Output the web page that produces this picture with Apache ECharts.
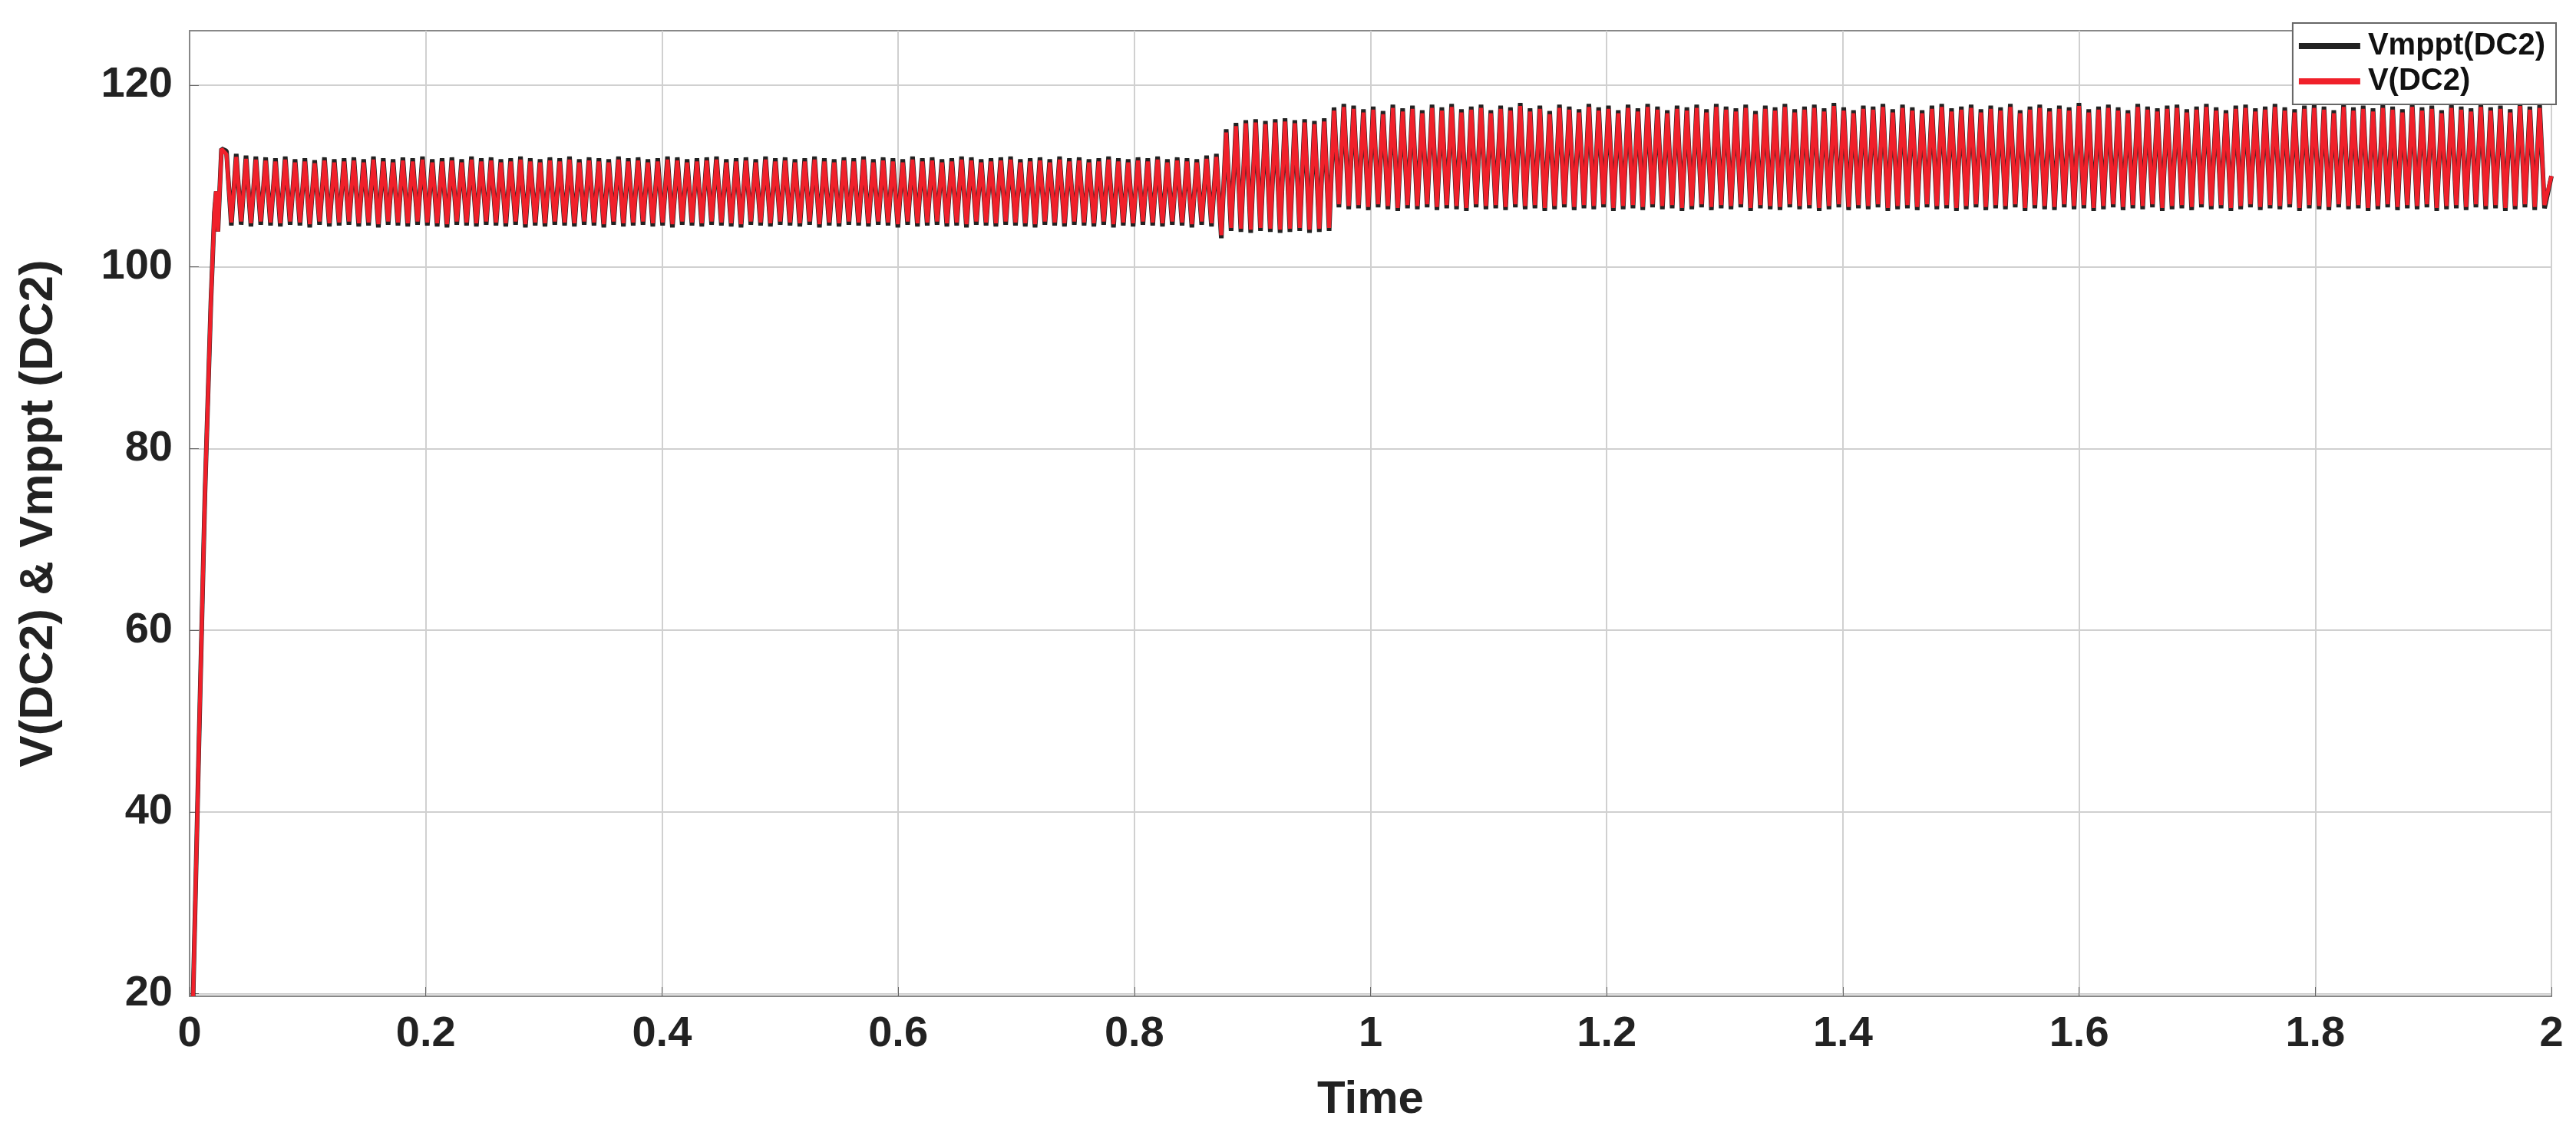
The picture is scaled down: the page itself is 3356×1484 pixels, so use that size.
<!DOCTYPE html>
<html><head><meta charset="utf-8">
<script src="https://cdn.jsdelivr.net/npm/echarts@6/dist/echarts.min.js"></script>
<style>html,body{margin:0;padding:0;background:#fff}#c{width:3356px;height:1484px}</style>
</head><body><div id="c"></div>
<script>
// start-up transient (time, value)
const startT = [0.003, 0.008, 0.013, 0.018, 0.021, 0.0225, 0.024, 0.0255, 0.027];
const startV = [19.7, 48, 75, 96, 106, 108.3, 103.9, 108.5, 113.0];
// oscillation period (s) between successive peaks
const period = 0.0083;
const t0 = 0.0312;
// segment 1: 0.03 - 0.875 s
const peaks1 = [112.4,112.1,111.9,111.8,111.7,111.6,111.8,111.5,111.6,111.4,111.7,111.5,111.6,111.7,111.5,111.8,111.6,111.5,111.7,111.6,111.8,111.5,111.6,111.7,111.5,111.8,111.6,111.7,111.5,111.6,111.8,111.6,111.5,111.7,111.6,111.8,111.5,111.7,111.6,111.5,111.8,111.6,111.7,111.5,111.6,111.8,111.7,111.5,111.6,111.7,111.8,111.5,111.6,111.7,111.5,111.8,111.6,111.7,111.5,111.6,111.8,111.6,111.5,111.7,111.6,111.8,111.5,111.7,111.6,111.5,111.8,111.6,111.7,111.5,111.6,111.8,111.7,111.5,111.6,111.7,111.8,111.5,111.6,111.7,111.5,111.8,111.6,111.7,111.5,111.6,111.8,111.6,111.5,111.7,111.6,111.8,111.5,111.7,111.6,111.5,111.9,112.1];
const troughs1 = [104.9,105.0,104.8,105.0,104.9,104.8,105.0,104.9,104.7,105.0,104.8,104.9,105.0,104.8,104.9,104.7,105.0,104.9,104.8,105.0,104.9,104.8,104.7,105.0,104.9,104.8,105.0,104.9,104.8,105.0,104.7,104.9,104.8,105.0,104.9,104.8,105.0,104.9,104.7,105.0,104.8,104.9,105.0,104.8,104.9,104.7,105.0,104.9,104.8,105.0,104.9,104.8,104.7,105.0,104.9,104.8,105.0,104.9,104.8,105.0,104.7,104.9,104.8,105.0,104.9,104.8,105.0,104.9,104.7,105.0,104.8,104.9,105.0,104.8,104.9,104.7,105.0,104.9,104.8,105.0,104.9,104.8,104.7,105.0,104.9,104.8,105.0,104.9,104.8,105.0,104.7,104.9,104.8,105.0,104.9,104.8,105.0,104.9,104.7,105.0,104.8,103.5];
// segment 2: 0.875 - 0.965 s
const peaks2 = [114.8,115.5,115.8,115.9,115.7,115.9,116.0,115.8,115.9,115.7,116.0];
const troughs2 = [104.3,104.2,104.1,104.3,104.2,104.1,104.2,104.3,104.1,104.2,104.3];
// segment 3: 0.965 - 2.0 s
const peaks3 = [117.2,117.6,117.4,117.0,117.3,116.8,117.5,117.1,117.4,116.9,117.5,117.2,117.6,117.0,117.3,117.5,116.9,117.4,117.2,117.7,117.1,117.4,116.8,117.5,117.3,117.0,117.6,117.2,117.4,116.9,117.5,117.1,117.6,117.3,116.9,117.4,117.2,117.5,117.0,117.6,117.3,117.1,117.5,116.8,117.4,117.2,117.6,117.0,117.3,117.5,117.1,117.7,117.2,116.9,117.4,117.3,117.6,117.0,117.5,117.2,116.9,117.4,117.6,117.1,117.3,117.5,117.0,117.4,117.2,117.6,116.9,117.3,117.5,117.1,117.4,117.2,117.7,117.0,117.3,117.5,117.2,116.9,117.6,117.3,117.1,117.4,117.5,117.0,117.3,117.6,117.2,116.9,117.4,117.5,117.1,117.3,117.6,117.2,117.0,117.4,117.5,117.3,116.9,117.6,117.2,117.4,117.1,117.5,117.3,117.0,117.6,117.2,117.4,116.9,117.5,117.3,117.1,117.6,117.2,117.4,117.0,117.7,117.3,117.5];
const troughs3 = [106.9,106.7,106.8,106.6,106.9,106.7,106.5,106.8,106.7,106.9,106.6,106.8,106.7,106.5,106.9,106.7,106.8,106.6,106.9,106.7,106.8,106.5,106.7,106.9,106.6,106.8,106.7,106.9,106.5,106.7,106.8,106.6,106.9,106.7,106.8,106.5,106.7,106.9,106.6,106.8,106.7,106.9,106.5,106.8,106.7,106.6,106.9,106.7,106.8,106.5,106.7,106.9,106.6,106.8,106.7,106.9,106.5,106.7,106.8,106.6,106.9,106.7,106.8,106.5,106.7,106.9,106.6,106.8,106.7,106.9,106.5,106.8,106.7,106.6,106.9,106.7,106.8,106.5,106.7,106.9,106.6,106.8,106.7,106.9,106.5,106.7,106.8,106.6,106.9,106.7,106.8,106.5,106.7,106.9,106.6,106.8,106.7,106.9,106.5,106.8,106.7,106.6,106.9,106.7,106.8,106.5,106.7,106.9,106.6,106.8,106.7,106.9,106.5,106.7,106.8,106.6,106.9,106.7,106.8,106.5,106.7,106.9,106.6,106.8,106.7];
// small overshoot of the MPPT reference beyond V(DC2) at the extremes
const mpptOvershoot = 0.35;
const xTicks = [0, 0.2, 0.4, 0.6, 0.8, 1, 1.2, 1.4, 1.6, 1.8, 2];

const peaks = peaks1.concat(peaks2, peaks3);
const troughs = troughs1.concat(troughs2, troughs3);
function build(ov){
  const d = startT.map((t,i)=>[t,startV[i]]);
  for(let k=0;k<peaks.length;k++){
    const tp = t0 + k*period;
    d.push([tp, peaks[k]+ov]);
    d.push([tp+period*0.5, troughs[k]-ov]);
  }
  d.push([2.0, 110]);
  return d;
}
const redData = build(0), blackData = build(mpptOvershoot);
const font = 'Liberation Sans, Arial, sans-serif';
const chart = echarts.init(document.getElementById('c'));
chart.setOption({
  animation:false,
  backgroundColor:'#fff',
  grid:{left:247,right:32,top:40,bottom:186,show:true,borderColor:'#888',borderWidth:2},
  legend:{
    right:26, top:30, orient:'vertical', itemGap:6, itemWidth:90, itemHeight:8,
    borderColor:'#666', borderWidth:2, padding:[10,14,10,8], backgroundColor:'#fff',
    textStyle:{fontFamily:font,fontWeight:'bold',fontSize:40,color:'#111'},
    data:[{name:'Vmppt(DC2)',icon:'path://M0,0H10V1H0Z'},{name:'V(DC2)',icon:'path://M0,0H10V1H0Z'}]
  },
  xAxis:{type:'value',min:0,max:2,interval:0.2,
    name:'Time',nameLocation:'middle',nameGap:105,
    nameTextStyle:{fontFamily:font,fontWeight:'bold',fontSize:60,color:'#222'},
    axisLine:{lineStyle:{color:'#888',width:2}},
    axisTick:{inside:true,length:12,lineStyle:{color:'#666'}},
    axisLabel:{fontFamily:font,fontWeight:'bold',fontSize:56,color:'#222',margin:22,
      formatter:v=>xTicks.includes(+v.toFixed(1))?String(+v.toFixed(1)):''},
    splitLine:{show:true,lineStyle:{color:'#d0d0d0',width:2}}},
  yAxis:{type:'value',min:19.7,max:126,
    name:'V(DC2) & Vmppt (DC2)',nameLocation:'middle',nameGap:165,
    nameTextStyle:{fontFamily:font,fontWeight:'bold',fontSize:62,color:'#222'},
    axisLine:{lineStyle:{color:'#888',width:2}},
    axisTick:{inside:true,length:12,lineStyle:{color:'#666'},customValues:[20,40,60,80,100,120]},
    axisLabel:{fontFamily:font,fontWeight:'bold',fontSize:56,color:'#222',margin:22,customValues:[20,40,60,80,100,120]},
    splitLine:{show:true,lineStyle:{color:'#d0d0d0',width:2}}},
  series:[
    {name:'Vmppt(DC2)',type:'line',data:blackData,showSymbol:false,sampling:false,
      lineStyle:{color:'#222',width:6},itemStyle:{color:'#222'},z:2},
    {name:'V(DC2)',type:'line',data:redData,showSymbol:false,sampling:false,
      lineStyle:{color:'#f0202a',width:5},itemStyle:{color:'#f0202a'},z:3}
  ]
});
</script></body></html>
